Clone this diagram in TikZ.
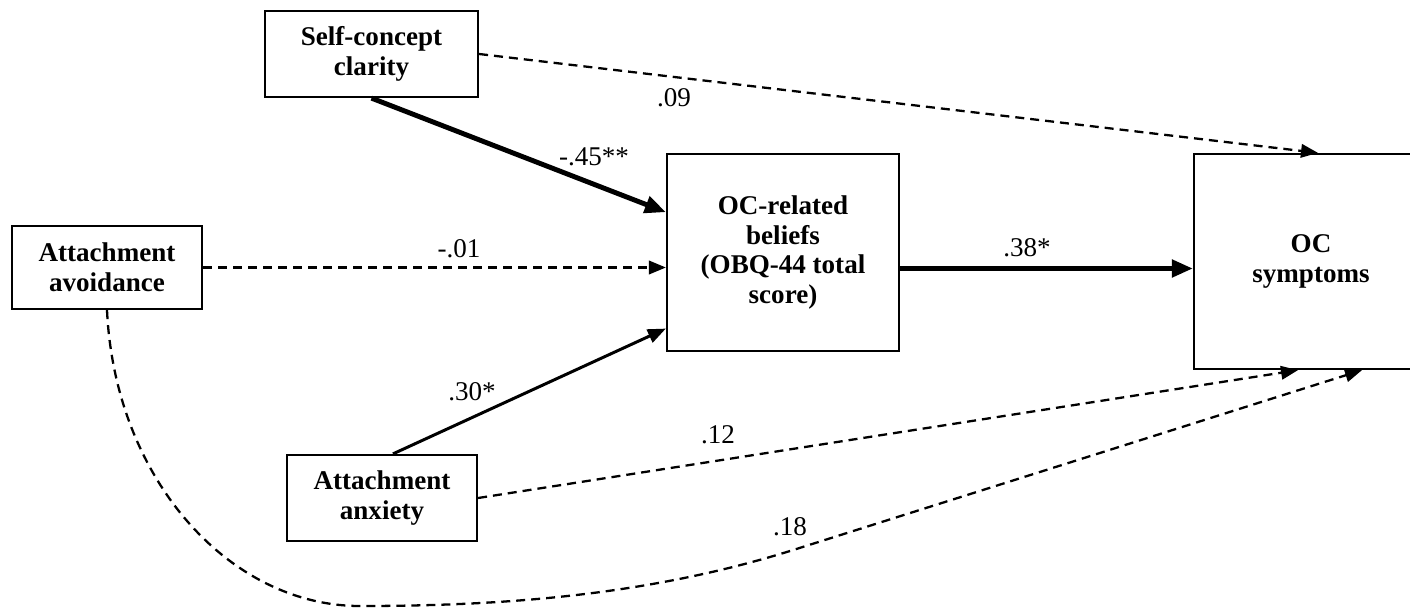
\documentclass[tikz,border=0pt]{standalone}
\usepackage{fontspec}
\setmainfont{Liberation Serif}
\usetikzlibrary{arrows.meta, positioning, calc}

\begin{document}
\begin{tikzpicture}[
    x=0.02cm, y=-0.02cm,
    font=\fontsize{15.4}{16.8}\selectfont,
    var/.style={rectangle, draw, line width=1.3pt, align=center, inner sep=2pt, font=\fontsize{15.4}{16.8}\selectfont\bfseries},
    coef/.style={inner sep=1pt},
    path_strong/.style={line width=2.8pt, -{Triangle[length=0.42cm, width=0.34cm]}},
    path_solid/.style={line width=1.7pt, -{Triangle[length=0.36cm, width=0.28cm]}},
    path_ns/.style={line width=1.3pt, dash pattern=on 0.18cm off 0.12cm, -{Triangle[length=0.34cm, width=0.27cm]}}
]
\useasboundingbox (0,0) rectangle (1410,608);

% Variables
\node (sc) [var, minimum width=4.26cm, minimum height=1.72cm] at (371.5,54) {Self-concept\\clarity};
\node (av) [var, minimum width=3.8cm, minimum height=1.66cm] at (107,267.5) {Attachment\\avoidance};
\node (ax) [var, minimum width=3.8cm, minimum height=1.72cm] at (382,498) {Attachment\\anxiety};
\node (ob) [var, minimum width=4.64cm, minimum height=3.94cm] at (783,252.5) {OC-related\\beliefs\\(OBQ-44 total\\score)};
\node (os) [var, minimum width=4.68cm, minimum height=4.3cm] at (1311,261.5) {OC\\symptoms};

% Paths into the mediator
\draw [path_strong] (sc.south) -- (ob.161);
\draw [path_ns] (av.east) -- (av.east -| ob.west);
\draw [path_solid] ([xshift=0.22cm]ax.north) -- (ob.213);

% Paths into the outcome
\draw [path_strong] ([yshift=-0.32cm]ob.east) -- ([yshift=-0.32cm]ob.east -| os.west);
\draw [path_ns] (sc.east) -- ([xshift=0.14cm]os.north);
\draw [path_ns] (ax.east) -- ([xshift=-0.26cm]os.south);
\draw [path_ns] (av.south) .. controls (115,480) and (230,606) .. (360,606)
    .. controls (500,606) and (645,596) .. (790,551) -- ([xshift=1.02cm]os.south);

% Coefficients
\node (c_sc_ob) [coef] at (594,157) {-.45**};
\node (c_av_ob) [coef] at (459,249) {-.01};
\node (c_ax_ob) [coef] at (472,392) {.30*};
\node (c_ob_os) [coef] at (1027,248) {.38*};
\node (c_sc_os) [coef] at (674,98) {.09};
\node (c_ax_os) [coef] at (718,435) {.12};
\node (c_av_os) [coef] at (790,527) {.18};

\end{tikzpicture}
\end{document}
